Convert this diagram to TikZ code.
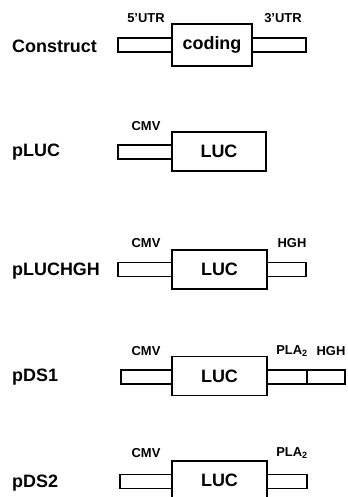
\documentclass[tikz,border=0pt]{standalone}
\usepackage{fontspec}
\setmainfont{Liberation Sans}
\begin{document}
\begin{tikzpicture}[x=1bp,y=1bp,
  box/.style={draw=black,line width=1.6bp,fill=white,inner sep=0pt,outer sep=0pt},
  bigtxt/.style={font=\bfseries\fontsize{18}{20}\selectfont},
  smalltxt/.style={font=\bfseries\fontsize{13}{15}\selectfont,inner sep=0pt},
  rowlab/.style={font=\bfseries\fontsize{18}{20}\selectfont,anchor=west,inner sep=0pt}]
\useasboundingbox (0,0) rectangle (347,497);
\begin{scope}
\clip (0,0) rectangle (347,497);
% Construct
\node[box,minimum width=54bp,minimum height=14bp] (utr5) at (145,452) {};
\node[box,minimum width=54bp,minimum height=14bp] (utr3) at (279,452) {};
\node[box,bigtxt,minimum width=80bp,minimum height=42bp] (cod) at (212,452) {coding};
\node[smalltxt] (l5) at (146,479) {5’UTR};
\node[smalltxt] (l3) at (283,479) {3’UTR};
\node[rowlab] (rc) at (12,451) {Construct};
% pLUC
\node[box,minimum width=54bp,minimum height=14bp] (cmv1) at (145,345) {};
\node[box,bigtxt,minimum width=94bp,minimum height=39bp] (luc1) at (219,345.5) {LUC};
\node[smalltxt] (lc1) at (146,371) {CMV};
\node[rowlab] (r1) at (12,345) {pLUC};
% pLUCHGH
\node[box,minimum width=54bp,minimum height=14bp] (cmv2) at (145,227.5) {};
\node[box,minimum width=39bp,minimum height=14bp] (hgh2) at (286.5,227.5) {};
\node[box,bigtxt,minimum width=95bp,minimum height=39bp] (luc2) at (219.5,227.5) {LUC};
\node[smalltxt] (lc2) at (146,254) {CMV};
\node[smalltxt] (lh2) at (292,254) {HGH};
\node[rowlab] (r2) at (12,226) {pLUCHGH};
% pDS1
\node[box,minimum width=51bp,minimum height=14bp] (cmv3) at (146.5,120) {};
\node[box,minimum width=40bp,minimum height=14bp] (pla3) at (287,120) {};
\node[box,minimum width=38bp,minimum height=14bp] (hgh3) at (326,120) {};
\node[box,bigtxt,minimum width=95bp,minimum height=39bp] (luc3) at (219.5,121) {LUC};
\node[smalltxt] (lc3) at (146,146) {CMV};
\node[smalltxt] (lp3) at (292,146) {PLA\textsubscript{2}};
\node[smalltxt] (lh3) at (331,146) {HGH};
\node[rowlab] (r3) at (12,120) {pDS1};
% pDS2
\node[box,minimum width=53bp,minimum height=14bp] (cmv4) at (146.5,15.5) {};
\node[box,minimum width=40bp,minimum height=14bp] (pla4) at (287,15.5) {};
\node[box,minimum width=95bp,minimum height=45bp] (luc4) at (219.5,13.5) {};
\node[bigtxt] (luct4) at (219.5,16.5) {LUC};
\node[smalltxt] (lc4) at (146,44) {CMV};
\node[smalltxt] (lp4) at (292,44) {PLA\textsubscript{2}};
\node[rowlab] (r4) at (12,14) {pDS2};
\end{scope}
\end{tikzpicture}
\end{document}
